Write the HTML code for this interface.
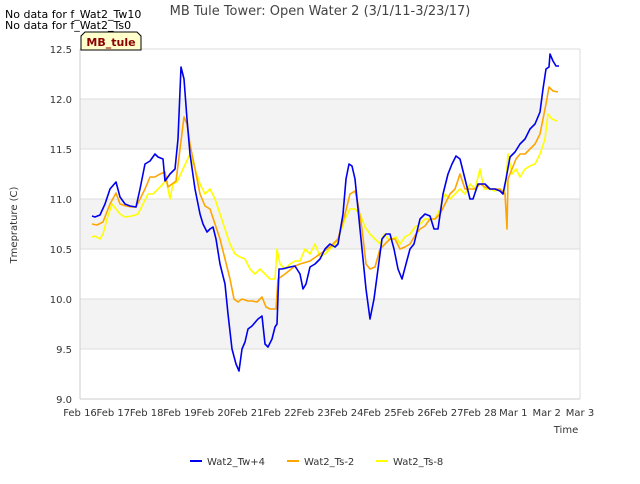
<!DOCTYPE html>
<html><head><meta charset="utf-8"><style>
body{margin:0;background:#fff;font-family:"DejaVu Sans","Liberation Sans",sans-serif;}
svg text{font-family:"DejaVu Sans","Liberation Sans",sans-serif;}
</style></head><body>
<svg id="chart" width="640" height="480" viewBox="0 0 640 480" xmlns="http://www.w3.org/2000/svg">
<rect width="640" height="480" fill="#fff"/>
<g id="bands"></g>
<g id="grid"></g>
<g id="series"></g>
<g id="axes"></g>
<text x="320" y="15" text-anchor="middle" font-size="13" fill="#444">MB Tule Tower: Open Water 2 (3/1/11-3/23/17)</text>
<text x="5" y="18" font-size="11" fill="#000">No data for f_Wat2_Tw10</text>
<text x="5" y="29" font-size="11" fill="#000">No data for f_Wat2_Ts0</text>
<g>
<path d="M81,50 L81,36 L85,32 L137,32 L141,36 L141,50 Z" fill="#ffffcc" stroke="#000" stroke-width="1"/>
<text x="111" y="46" text-anchor="middle" font-size="11" font-weight="bold" fill="#8b0000">MB_tule</text>
</g>
<text transform="translate(17,225) rotate(-90)" text-anchor="middle" font-size="10" fill="#333">Tmeprature (C)</text>
<text x="566" y="433" text-anchor="middle" font-size="10" fill="#333">Time</text>
<g id="legend"></g>
</svg>
<script>
const yTicks=[9.0,9.5,10.0,10.5,11.0,11.5,12.0,12.5];
const xTickLabels=["Feb 16","Feb 17","Feb 18","Feb 19","Feb 20","Feb 21","Feb 22","Feb 23","Feb 24","Feb 25","Feb 26","Feb 27","Feb 28","Mar 1","Mar 2","Mar 3"];
const seriesNames=["Wat2_Tw+4","Wat2_Ts-2","Wat2_Ts-8"];
const seriesColors=["#0000ee","#ffa500","#ffff00"];
const twDays=[.36,.45,.6,.75,.9,1.08,1.2,1.35,1.5,1.68,1.8,1.95,2.1,2.25,2.34,2.49,2.55,2.7,2.85,2.94,3.03,3.12,3.21,3.3,3.45,3.6,3.69,3.81,3.9,3.99,4.08,4.2,4.35,4.44,4.56,4.68,4.77,4.86,4.95,5.04,5.16,5.34,5.46,5.55,5.64,5.76,5.85,5.91,5.97,6.06,6.3,6.45,6.6,6.69,6.78,6.9,7.05,7.2,7.35,7.5,7.65,7.74,7.89,7.98,8.07,8.16,8.25,8.34,8.46,8.58,8.7,8.82,8.94,9.06,9.18,9.3,9.42,9.54,9.66,9.78,9.9,10.02,10.2,10.35,10.5,10.62,10.74,10.89,11.04,11.16,11.28,11.4,11.55,11.7,11.79,11.94,12.15,12.3,12.45,12.6,12.69,12.78,12.9,13.05,13.2,13.35,13.5,13.65,13.8,13.89,13.98,14.07,14.1,14.19,14.28,14.37];
const twVals=[10.83,10.82,10.84,10.95,11.1,11.17,11.02,10.95,10.93,10.92,11.1,11.35,11.38,11.45,11.42,11.4,11.18,11.25,11.3,11.6,12.32,12.2,11.8,11.45,11.1,10.85,10.75,10.67,10.7,10.72,10.6,10.35,10.15,9.85,9.5,9.35,9.28,9.5,9.57,9.7,9.73,9.8,9.83,9.55,9.52,9.6,9.72,9.75,10.3,10.3,10.32,10.33,10.25,10.1,10.15,10.32,10.35,10.4,10.5,10.55,10.52,10.55,10.85,11.2,11.35,11.33,11.2,10.9,10.5,10.1,9.8,10.0,10.3,10.6,10.65,10.65,10.5,10.3,10.2,10.35,10.5,10.55,10.8,10.85,10.83,10.7,10.7,11.05,11.25,11.35,11.43,11.4,11.2,11.0,11.0,11.15,11.15,11.1,11.1,11.08,11.05,11.2,11.42,11.47,11.55,11.6,11.7,11.75,11.87,12.1,12.3,12.32,12.45,12.38,12.33,12.33];
const ts2Days=[.36,.51,.69,.9,1.08,1.2,1.38,1.56,1.68,1.8,1.95,2.1,2.25,2.4,2.55,2.64,2.76,2.88,3.0,3.12,3.21,3.3,3.45,3.6,3.75,3.9,4.05,4.2,4.35,4.5,4.62,4.74,4.86,5.04,5.16,5.31,5.46,5.58,5.7,5.88,5.94,6.15,6.45,6.6,6.9,7.2,7.5,7.74,7.95,8.1,8.25,8.34,8.46,8.58,8.7,8.85,9.0,9.15,9.3,9.45,9.6,9.75,9.9,10.08,10.2,10.35,10.5,10.65,10.8,10.95,11.1,11.25,11.4,11.55,11.7,11.85,12.0,12.15,12.3,12.6,12.75,12.81,12.84,12.96,13.08,13.2,13.35,13.5,13.65,13.8,13.89,13.98,14.07,14.19,14.34];
const ts2Vals=[10.75,10.74,10.77,10.95,11.06,10.95,10.93,10.92,10.92,11.0,11.1,11.22,11.22,11.25,11.27,11.12,11.15,11.18,11.5,11.82,11.75,11.55,11.3,11.05,10.93,10.9,10.75,10.6,10.4,10.2,10.0,9.97,10.0,9.98,9.98,9.97,10.02,9.92,9.9,9.9,10.2,10.25,10.33,10.35,10.38,10.45,10.52,10.6,10.85,11.05,11.08,10.95,10.7,10.35,10.3,10.32,10.5,10.55,10.6,10.6,10.5,10.52,10.55,10.65,10.7,10.73,10.8,10.8,10.85,10.95,11.05,11.1,11.25,11.1,11.1,11.1,11.15,11.12,11.1,11.1,11.05,10.7,11.2,11.3,11.4,11.45,11.45,11.5,11.55,11.65,11.8,11.95,12.12,12.08,12.07];
const ts8Days=[.36,.45,.6,.69,.81,.96,1.08,1.2,1.35,1.56,1.74,1.89,2.04,2.19,2.34,2.49,2.58,2.7,2.79,2.91,3.09,3.3,3.45,3.6,3.75,3.9,4.05,4.2,4.35,4.5,4.65,4.8,4.95,5.1,5.25,5.4,5.55,5.7,5.85,5.91,6.0,6.15,6.3,6.45,6.6,6.75,6.9,7.05,7.2,7.35,7.5,7.65,7.8,7.95,8.1,8.25,8.4,8.55,8.7,8.85,9.0,9.12,9.24,9.36,9.48,9.6,9.75,9.9,10.05,10.2,10.35,10.5,10.65,10.8,10.95,11.1,11.25,11.4,11.55,11.7,11.85,12.0,12.12,12.3,12.45,12.6,12.75,12.84,12.96,13.08,13.2,13.35,13.5,13.65,13.8,13.95,14.04,14.16,14.31];
const ts8Vals=[10.62,10.63,10.6,10.65,10.8,10.95,10.9,10.85,10.82,10.83,10.85,10.95,11.05,11.05,11.1,11.15,11.2,11.0,11.15,11.17,11.3,11.45,11.3,11.15,11.05,11.1,11.0,10.85,10.7,10.55,10.45,10.42,10.4,10.3,10.25,10.3,10.25,10.2,10.2,10.5,10.35,10.3,10.35,10.38,10.38,10.5,10.45,10.55,10.42,10.45,10.5,10.55,10.65,10.8,10.9,10.9,10.85,10.72,10.65,10.6,10.55,10.65,10.6,10.6,10.62,10.55,10.62,10.65,10.72,10.75,10.8,10.8,10.8,10.9,11.05,11.0,11.05,11.1,11.05,11.15,11.1,11.3,11.1,11.1,11.08,11.1,11.05,11.45,11.25,11.3,11.22,11.3,11.33,11.35,11.45,11.6,11.85,11.8,11.78];

const NS="http://www.w3.org/2000/svg";
const L=80,R=580,T=49,B=399,yMin=9,yMax=12.5,xMax=15;
const xs=d=>L+d*(R-L)/xMax;
const ys=v=>B-(v-yMin)*(B-T)/(yMax-yMin);
function mk(tag,attrs,parent){const e=document.createElementNS(NS,tag);for(const k in attrs)e.setAttribute(k,attrs[k]);parent.appendChild(e);return e;}
const bands=document.getElementById('bands'),grid=document.getElementById('grid'),axes=document.getElementById('axes'),series=document.getElementById('series'),legend=document.getElementById('legend');
mk('rect',{x:L,y:T,width:R-L,height:B-T,fill:'#fff'},bands);
for(let i=0;i<yTicks.length-1;i++){
  if(i%2===1){const b=mk('rect',{x:L,y:ys(yTicks[i+1]),width:R-L,height:ys(yTicks[i])-ys(yTicks[i+1]),fill:'#f3f3f3'},bands);
  
  }
}
yTicks.forEach(v=>{
  const g=mk('line',{x1:L,x2:R,y1:ys(v),y2:ys(v),stroke:'#dcdcdc','stroke-width':1},grid);
  
  
  const t=mk('text',{x:L-8,y:ys(v)+4,'text-anchor':'end','font-size':10,fill:'#333'},axes);
  t.textContent=v.toFixed(1);
  
  
});
mk('line',{x1:R,x2:R,y1:T,y2:B,stroke:'#dcdcdc'},grid);
mk('line',{x1:L,x2:L,y1:T,y2:B,stroke:'#ccc'},axes);
mk('line',{x1:L,x2:R,y1:B,y2:B,stroke:'#ccc'},axes);
xTickLabels.forEach((lab,i)=>{
  const t=mk('text',{x:xs(i),y:B+17,'text-anchor':'middle','font-size':10,fill:'#333'},axes);
  t.textContent=lab;
  
  
});
const all=[[twDays,twVals],[ts2Days,ts2Vals],[ts8Days,ts8Vals]];
[2,1,0].forEach(k=>{
  const [d,v]=all[k];
  const p=d.map((di,i)=>(i?'L':'M')+xs(di).toFixed(1)+','+ys(v[i]).toFixed(1)).join('');
  const path=mk('path',{d:p,fill:'none',stroke:seriesColors[k],'stroke-width':1.6,'stroke-linejoin':'round'},series);
  
  
});
const lx=[190,287,376];
seriesNames.forEach((n,k)=>{
  const g=mk('g',{},legend);
  
  
  mk('line',{x1:lx[k],x2:lx[k]+12,y1:461,y2:461,stroke:seriesColors[k],'stroke-width':2},g);
  const t=mk('text',{x:lx[k]+17,y:465,'font-size':10,fill:'#333'},g);
  t.textContent=n;
});
</script>
</body></html>
